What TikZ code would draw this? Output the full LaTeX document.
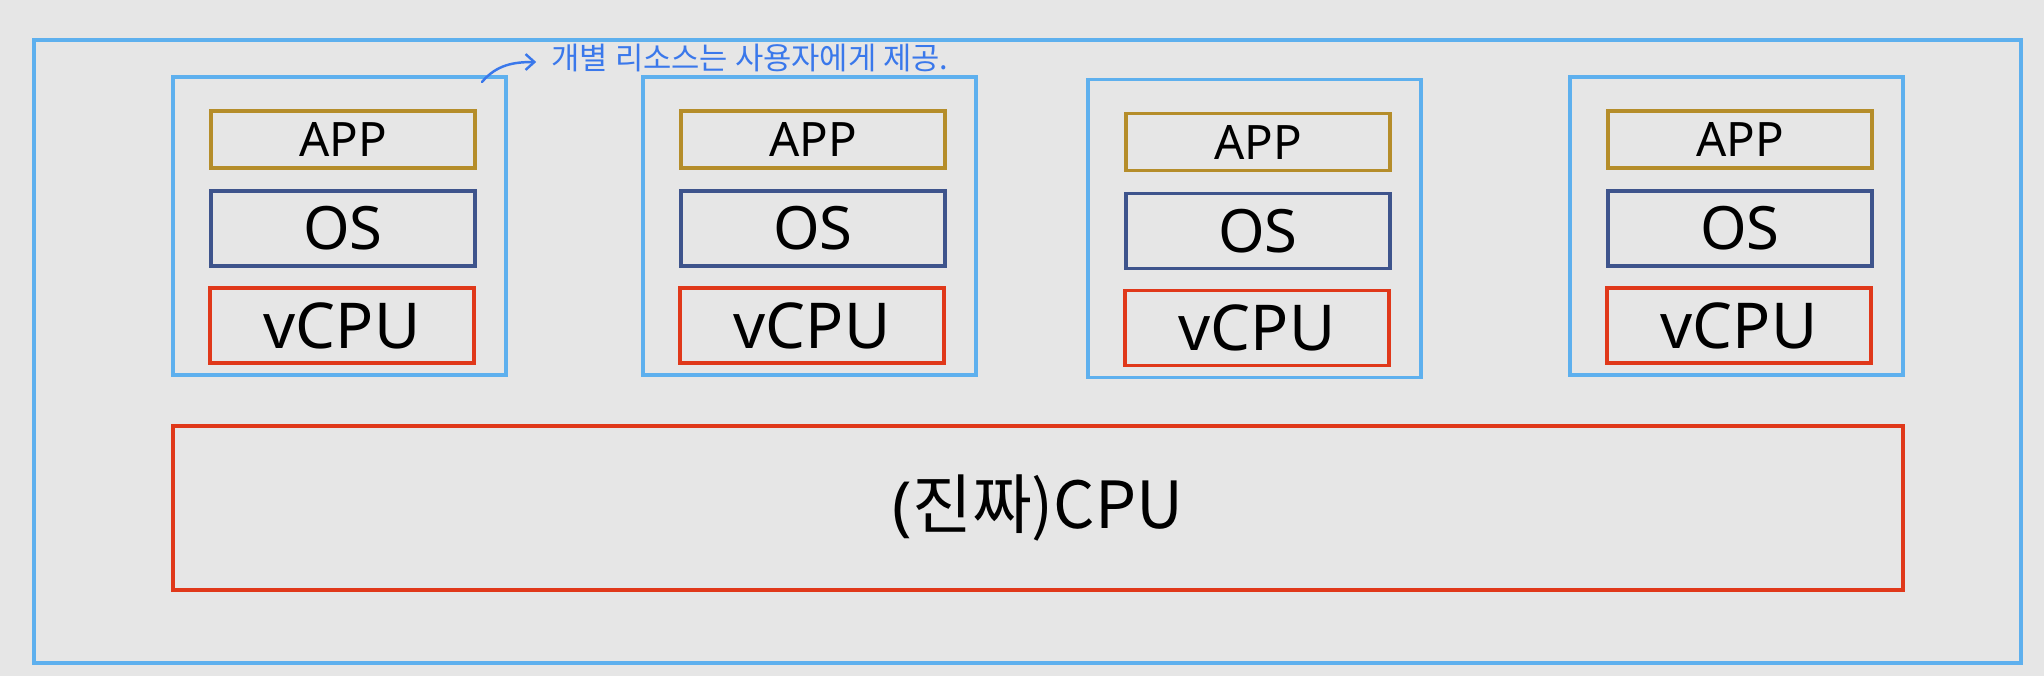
\documentclass[tikz,border=0pt]{standalone}
\usepackage{fontspec}
\setmainfont{Noto Sans}
\newfontfamily\krfont{Noto Sans CJK KR}
\usetikzlibrary{arrows.meta}

\definecolor{bgcol}{RGB}{230,230,230}
\definecolor{vmblue}{RGB}{94,176,238}
\definecolor{appgold}{RGB}{181,141,42}
\definecolor{osnavy}{RGB}{62,84,140}
\definecolor{cpured}{RGB}{224,56,26}
\definecolor{penblue}{RGB}{58,120,235}

\begin{document}
\begin{tikzpicture}
    [x=0.02cm,y=-0.02cm,inner sep=0pt,
        host box/.style={draw=vmblue,line width=2.3pt,minimum width=39.74cm,minimum height=12.46cm},
        vm box/.style={draw=vmblue,line width=2pt,minimum width=6.66cm,minimum height=5.96cm},
        layer box/.style={line width=2pt,minimum width=5.28cm},
        app box/.style={layer box,draw=appgold,minimum height=1.14cm,font=\fontsize{27}{27}\selectfont},
        os box/.style={layer box,draw=osnavy,minimum height=1.5cm,font=\fontsize{34}{34}\selectfont},
        vcpu box/.style={layer box,draw=cpured,minimum height=1.5cm,font=\fontsize{36}{36}\selectfont},
        cpu box/.style={draw=cpured,line width=2pt,minimum width=34.6cm,minimum height=3.28cm,font=\fontsize{37}{37}\selectfont},
        memo/.style={text=penblue,font=\krfont\fontsize{17.5}{17.5}\selectfont}]

    \useasboundingbox[fill=bgcol] (0,0) rectangle (2044,676);

    \node[host box] (host) at (1027.5,351.5) {};

    % one virtual machine per column
    \foreach \i/\x/\dy in {1/173/0, 2/643/0, 3/1088/2.5, 4/1570/0} {
        \node[vm box] (vm\i) at (\x+166.5,226+\dy) {};
        \node[app box] (app\i) at (\x+170,139.5+\dy) {APP};
        \node[os box] (os\i) at (\x+170,228.5+\dy) {OS};
        \node[vcpu box] (vcpu\i) at (\x+169,325.5+\dy) {vCPU};
    }

    \node[cpu box] (cpu) at (1038,508) {(\krfont 진짜)CPU};

    % handwritten remark
    \node[memo] (remark) at (750,58) {개별 리소스는 사용자에게 제공.};
    \coordinate (tail) at (482,82);
    \draw[penblue,line width=1.4pt,line cap=round,-{Straight Barb[length=5pt,width=9pt]}]
        (tail) to[out=50,in=180] ([xshift=-0.3cm,yshift=-0.08cm]remark.west);
\end{tikzpicture}
\end{document}
